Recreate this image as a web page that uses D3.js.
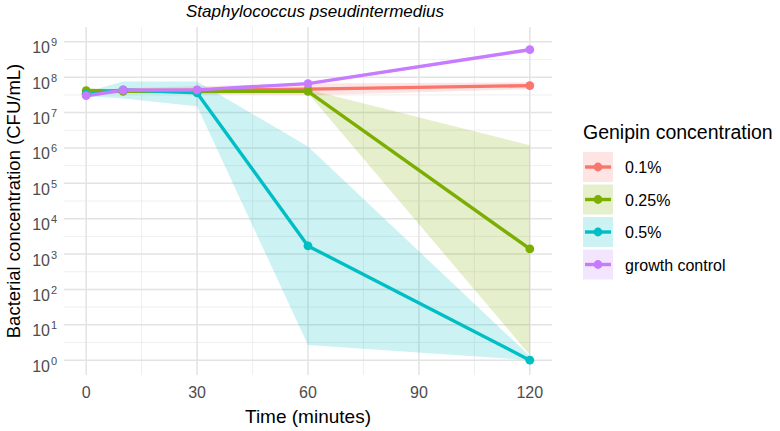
<!DOCTYPE html>
<html lang="en">
<head>
  <meta charset="UTF-8">
  <title>Genipin time-kill</title>
  <script src="https://d3js.org/d3.v7.min.js"></script>
  <style>
    body { margin: 0; background: #fff; }
    text { font-family: "Liberation Sans", Arial, sans-serif; }
  </style>
</head>
<body>
<svg width="780" height="431"></svg>
<script>
  const svg = d3.select("svg");

  // Data
  const times = [0, 10, 30, 60, 120];
  const groups = ["0.1%", "0.25%", "0.5%", "growth control"];
  const colors = ["#F8766D", "#7CAE00", "#00BFC4", "#C77CFF"];

  const meanVals = [
    [3.5e7, 4.2e7, 4.3e7, 4.6e7, 5.8e7],
    [4.2e7, 4.0e7, 4.0e7, 4.0e7, 1.4e3],
    [3.3e7, 4.4e7, 3.6e7, 1.7e3, 1],
    [3.0e7, 4.3e7, 4.4e7, 6.6e7, 6.0e8]
  ];
  const lowVals = [
    [3.0e7, 3.6e7, 3.3e7, 3.1e7, 4.6e7],
    [3.6e7, 3.5e7, 3.4e7, 3.5e7, 1.4],
    [2.9e7, 2.5e7, 1.5e7, 2.7, 1],
    [2.7e7, 3.9e7, 4.0e7, 6.0e7, 5.5e8]
  ];
  const highVals = [
    [4.1e7, 4.9e7, 5.6e7, 6.6e7, 7.2e7],
    [4.8e7, 4.6e7, 4.6e7, 4.5e7, 1.2e6],
    [3.8e7, 7.6e7, 7.6e7, 1.1e6, 1.3],
    [3.3e7, 4.7e7, 4.8e7, 7.2e7, 6.6e8]
  ];
  const xTicks = [0, 30, 60, 90, 120];
  const xMinor = [15, 45, 75, 105];
  const yTicks = [0, 1, 2, 3, 4, 5, 6, 7, 8, 9];
  const yMinor = [0.5, 1.5, 2.5, 3.5, 4.5, 5.5, 6.5, 7.5, 8.5];

  const panel = { left: 64, right: 552, top: 27, bottom: 375 };

  const x = d3.scaleLinear().domain([-6, 126]).range([panel.left, panel.right]);
  const y = d3.scaleLog().domain([Math.pow(10, -0.42), Math.pow(10, 9.42)])
    .range([panel.bottom, panel.top]);

  // grid
  const grid = svg.append("g");
  grid.selectAll(".ymin").data(yMinor)
    .enter().append("line")
      .attr("x1", panel.left).attr("x2", panel.right)
      .attr("y1", d => y(Math.pow(10, d))).attr("y2", d => y(Math.pow(10, d)))
      .attr("stroke", "#EBEBEB").attr("stroke-width", 0.8);
  grid.selectAll(".xmin").data(xMinor)
    .enter().append("line")
      .attr("y1", panel.top).attr("y2", panel.bottom)
      .attr("x1", d => x(d)).attr("x2", d => x(d))
      .attr("stroke", "#EBEBEB").attr("stroke-width", 0.8);
  grid.selectAll(".ymaj").data(yTicks)
    .enter().append("line")
      .attr("x1", panel.left).attr("x2", panel.right)
      .attr("y1", d => y(Math.pow(10, d))).attr("y2", d => y(Math.pow(10, d)))
      .attr("stroke", "#E3E3E3").attr("stroke-width", 1.5);
  grid.selectAll(".xmaj").data(xTicks)
    .enter().append("line")
      .attr("y1", panel.top).attr("y2", panel.bottom)
      .attr("x1", d => x(d)).attr("x2", d => x(d))
      .attr("stroke", "#E3E3E3").attr("stroke-width", 1.5);

  const series = groups.map((g, i) => ({
    name: g, color: colors[i],
    pts: times.map((t, j) => ({ t, m: meanVals[i][j], lo: lowVals[i][j], hi: highVals[i][j] }))
  }));

  const area = d3.area().x(d => x(d.t)).y0(d => y(d.lo)).y1(d => y(d.hi));
  const line = d3.line().x(d => x(d.t)).y(d => y(d.m));

  svg.append("g").selectAll("path").data(series).enter().append("path")
    .attr("d", d => area(d.pts)).attr("fill", d => d.color).attr("fill-opacity", 0.2);

  svg.append("g").selectAll("path").data(series).enter().append("path")
    .attr("d", d => line(d.pts)).attr("fill", "none").attr("stroke", d => d.color)
    .attr("stroke-width", 3.4).attr("stroke-linejoin", "round");

  svg.append("g").selectAll("g").data(series).enter().append("g")
    .attr("fill", d => d.color)
    .selectAll("circle").data(d => d.pts).enter().append("circle")
      .attr("cx", d => x(d.t)).attr("cy", d => y(d.m)).attr("r", 4.4);

  // tick labels
  const xl = svg.append("g");
  xl.selectAll("text").data(xTicks).enter().append("text")
    .attr("x", d => x(d)).attr("y", 398).attr("text-anchor", "middle")
    .attr("font-size", 16).attr("fill", "#4D4D4D").text(d => d);

  const yl = svg.append("g");
  yTicks.forEach(e => {
    const gy = y(Math.pow(10, e));
    yl.append("text").attr("x", 50).attr("y", gy + 11.5)
      .attr("text-anchor", "end").attr("font-size", 16).attr("fill", "#4D4D4D").text("10");
    yl.append("text").attr("x", 51).attr("y", gy + 4.5)
      .attr("font-size", 11).attr("fill", "#4D4D4D").text(e);
  });

  // titles
  svg.append("text").attr("x", (panel.left + panel.right) / 2).attr("y", 423)
    .attr("text-anchor", "middle").attr("font-size", 19).attr("fill", "#000").text("Time (minutes)");
  svg.append("text").attr("transform", `translate(20,${(panel.top + panel.bottom) / 2}) rotate(-90)`)
    .attr("text-anchor", "middle").attr("font-size", 18.5).attr("fill", "#000")
    .text("Bacterial concentration (CFU/mL)");
  svg.append("text").attr("x", 315).attr("y", 17)
    .attr("text-anchor", "middle").attr("font-size", 17).attr("font-style", "italic")
    .text("Staphylococcus pseudintermedius");

  // legend
  const lg = svg.append("g").attr("transform", "translate(583,0)");
  lg.append("text").attr("x", 0).attr("y", 139).attr("font-size", 19.5).text("Genipin concentration");
  const keys = lg.selectAll("g.key").data(series).enter().append("g")
    .attr("transform", (d, i) => `translate(0,${152 + i * 32.5})`);
  keys.append("rect").attr("width", 30).attr("height", 30)
    .attr("fill", d => d.color).attr("fill-opacity", 0.2);
  keys.append("line").attr("x1", 2).attr("x2", 28).attr("y1", 15).attr("y2", 15)
    .attr("stroke", d => d.color).attr("stroke-width", 3.4);
  keys.append("circle").attr("cx", 15).attr("cy", 15).attr("r", 4.4).attr("fill", d => d.color);
  keys.append("text").attr("x", 42).attr("y", 21).attr("font-size", 16).attr("fill", "#000")
    .text(d => d.name);
</script>
</body>
</html>
